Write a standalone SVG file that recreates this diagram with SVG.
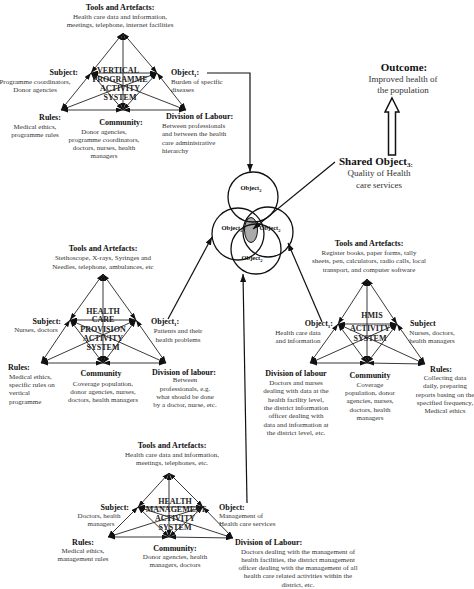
<svg xmlns="http://www.w3.org/2000/svg" width="474" height="589" viewBox="0 0 474 589">
<defs>
<marker id="ah" markerUnits="userSpaceOnUse" markerWidth="7" markerHeight="5" refX="7" refY="2.5" orient="auto-start-reverse"><path d="M0,0 L7,2.5 L0,5 z" fill="#111"/></marker>
<marker id="ahb" markerUnits="userSpaceOnUse" markerWidth="8" markerHeight="6" refX="8" refY="3" orient="auto"><path d="M0,0 L8,3 L0,6 z" fill="#111"/></marker>
<style>
text{font-family:"Liberation Serif","Times New Roman",serif;}
.t{font-size:7px;fill:#333;}
.h{font-size:8px;font-weight:bold;fill:#111;}
.c{text-anchor:middle;}
.e{text-anchor:end;}
.sys{font-size:8px;font-weight:bold;fill:#222;text-anchor:middle;}
.tri line{stroke:#222;stroke-width:0.9;marker-start:url(#ah);marker-end:url(#ah);}
.con{stroke:#111;stroke-width:1.2;fill:none;marker-end:url(#ahb);}
.circ{stroke:#111;stroke-width:1.3;fill:none;}
.ol{font-size:6.5px;font-weight:bold;fill:#111;text-anchor:middle;}
</style>
</defs>
<rect width="474" height="589" fill="#fff"/>

<g id="vertical-programme">
<g class="tri">
<line x1="123" y1="33" x2="91" y2="73"/><line x1="91" y1="73" x2="61" y2="110"/>
<line x1="123" y1="33" x2="157" y2="73"/><line x1="157" y1="73" x2="186" y2="110"/>
<line x1="61" y1="110" x2="123" y2="110"/><line x1="123" y1="110" x2="186" y2="110"/>
<line x1="123" y1="33" x2="123" y2="110"/><line x1="91" y1="73" x2="157" y2="73"/>
<line x1="91" y1="73" x2="123" y2="110"/><line x1="157" y1="73" x2="123" y2="110"/>
<line x1="91" y1="73" x2="186" y2="110"/><line x1="157" y1="73" x2="61" y2="110"/>
</g>
<text class="h c" x="120" y="10">Tools and Artefacts:</text>
<text class="t c" x="120" y="18.5">Health care data and information,</text>
<text class="t c" x="120" y="26.5">meetings, telephone, internet facilities</text>
<text class="h e" x="78" y="75">Subject:</text>
<text class="t c" x="35" y="84">Programme coordinators,</text>
<text class="t c" x="35" y="92">Donor agencies</text>
<text class="h" x="171" y="75">Object<tspan font-size="5" dy="1.5">1</tspan><tspan dy="-1.5">:</tspan></text>
<text class="t" x="171" y="84">Burden of specific</text>
<text class="t" x="171" y="92">diseases</text>
<text class="h c" x="50" y="120">Rules:</text>
<text class="t c" x="35" y="128.5">Medical ethics,</text>
<text class="t c" x="35" y="136.5">programme rules</text>
<text class="h c" x="121" y="125">Community:</text>
<text class="t c" x="104" y="133.5">Donor agencies,</text>
<text class="t c" x="104" y="141.5">programme coordinators,</text>
<text class="t c" x="104" y="149.5">doctors, nurses, health</text>
<text class="t c" x="104" y="158">managers</text>
<text class="h" x="166" y="119">Division of Labour:</text>
<text class="t" x="162" y="128">Between professionals</text>
<text class="t" x="162" y="136">and between the health</text>
<text class="t" x="162" y="144.5">care administrative</text>
<text class="t" x="162" y="152.5">hierarchy</text>
<text class="sys" x="118" y="73">VERTICAL</text>
<text class="sys" x="120" y="82">PROGRAMME</text>
<text class="sys" x="120" y="91">ACTIVITY</text>
<text class="sys" x="120" y="100">SYSTEM</text>
</g>

<g id="health-care-provision">
<g class="tri">
<line x1="103" y1="274" x2="70" y2="320"/><line x1="70" y1="320" x2="41" y2="363"/>
<line x1="103" y1="274" x2="136" y2="320"/><line x1="136" y1="320" x2="166" y2="363"/>
<line x1="41" y1="363" x2="103" y2="363"/><line x1="103" y1="363" x2="166" y2="363"/>
<line x1="103" y1="274" x2="103" y2="363"/><line x1="70" y1="320" x2="136" y2="320"/>
<line x1="70" y1="320" x2="103" y2="363"/><line x1="136" y1="320" x2="103" y2="363"/>
<line x1="70" y1="320" x2="166" y2="363"/><line x1="136" y1="320" x2="41" y2="363"/>
</g>
<text class="h c" x="103" y="251">Tools and Artefacts:</text>
<text class="t c" x="103" y="259.5">Stethoscope, X-rays, Syringes and</text>
<text class="t c" x="103" y="268.5">Needles, telephone, ambulances, etc</text>
<text class="h e" x="61" y="324">Subject:</text>
<text class="t c" x="36" y="332">Nurses, doctors</text>
<text class="h" x="151" y="324">Object<tspan font-size="5" dy="1.5">1</tspan><tspan dy="-1.5">:</tspan></text>
<text class="t c" x="178" y="332.5">Patients and their</text>
<text class="t c" x="178" y="341.5">health problems</text>
<text class="h" x="8" y="370">Rules:</text>
<text class="t" x="9" y="378.5">Medical ethics,</text>
<text class="t" x="9" y="387">specific rules on</text>
<text class="t" x="9" y="395">vertical</text>
<text class="t" x="9" y="403.5">programme</text>
<text class="h c" x="101" y="376">Community</text>
<text class="t c" x="103" y="385.5">Coverage population,</text>
<text class="t c" x="103" y="393.5">donor agencies, nurses,</text>
<text class="t c" x="103" y="402">doctors, health managers</text>
<text class="h c" x="184" y="374.5">Division of labour:</text>
<text class="t c" x="185" y="382">Between</text>
<text class="t c" x="185" y="390.5">professionals, e.g.</text>
<text class="t c" x="185" y="399">what should be done</text>
<text class="t c" x="185" y="407">by a doctor, nurse, etc.</text>
<text class="sys" x="103" y="313.5">HEALTH</text>
<text class="sys" x="103" y="322">CARE</text>
<text class="sys" x="103" y="332">PROVISION</text>
<text class="sys" x="103" y="341">ACTIVITY</text>
<text class="sys" x="103" y="350">SYSTEM</text>
</g>

<g id="hmis">
<g class="tri">
<line x1="367" y1="279" x2="338" y2="324"/><line x1="338" y1="324" x2="310" y2="363"/>
<line x1="367" y1="279" x2="397" y2="324"/><line x1="397" y1="324" x2="425" y2="364"/>
<line x1="310" y1="363" x2="367" y2="363"/><line x1="367" y1="363" x2="425" y2="364"/>
<line x1="367" y1="279" x2="367" y2="363"/><line x1="338" y1="324" x2="397" y2="324"/>
<line x1="338" y1="324" x2="367" y2="363"/><line x1="397" y1="324" x2="367" y2="363"/>
<line x1="338" y1="324" x2="425" y2="364"/><line x1="397" y1="324" x2="310" y2="363"/>
</g>
<text class="h c" x="369" y="246">Tools and Artefacts:</text>
<text class="t c" x="369" y="254.5">Register books, paper forms, tally</text>
<text class="t c" x="369" y="263">sheets, pen, calculators, radio calls, local</text>
<text class="t c" x="369" y="271.5">transport, and computer software</text>
<text class="h e" x="333" y="326">Object<tspan font-size="5" dy="1.5">1</tspan><tspan dy="-1.5">:</tspan></text>
<text class="t c" x="298" y="334.5">Health care data</text>
<text class="t c" x="298" y="342.5">and information</text>
<text class="h" x="410" y="326">Subject</text>
<text class="t c" x="432" y="334.5">Nurses, doctors,</text>
<text class="t c" x="432" y="342.5">health managers</text>
<text class="h c" x="296" y="376">Division of labour</text>
<text class="t c" x="296" y="384.5">Doctors and nurses</text>
<text class="t c" x="296" y="393">dealing with data at the</text>
<text class="t c" x="296" y="401.5">health facility level,</text>
<text class="t c" x="296" y="409.5">the district information</text>
<text class="t c" x="296" y="418">officer dealing with</text>
<text class="t c" x="296" y="426.5">data and information at</text>
<text class="t c" x="296" y="434.5">the district level, etc.</text>
<text class="h c" x="370" y="378">Community</text>
<text class="t c" x="370" y="386.5">Coverage</text>
<text class="t c" x="370" y="394.5">population, donor</text>
<text class="t c" x="370" y="403">agencies, nurses,</text>
<text class="t c" x="370" y="411.5">doctors, health</text>
<text class="t c" x="370" y="420">managers</text>
<text class="h c" x="441" y="372">Rules:</text>
<text class="t c" x="445" y="379.5">Collecting data</text>
<text class="t c" x="445" y="388">daily, preparing</text>
<text class="t c" x="445" y="396.5">reports basing on the</text>
<text class="t c" x="445" y="404.5">specified frequency,</text>
<text class="t c" x="445" y="412.5">Medical ethics</text>
<text class="sys" x="372" y="318">HMIS</text>
<text class="sys" x="370" y="331">ACTIVITY</text>
<text class="sys" x="370" y="341">SYSTEM</text>
</g>

<g id="health-management">
<g class="tri">
<line x1="169" y1="473" x2="138" y2="507"/><line x1="138" y1="507" x2="108" y2="537"/>
<line x1="169" y1="473" x2="203" y2="507"/><line x1="203" y1="507" x2="233" y2="538"/>
<line x1="108" y1="537" x2="169" y2="537"/><line x1="169" y1="537" x2="233" y2="538"/>
<line x1="169" y1="473" x2="169" y2="537"/><line x1="138" y1="507" x2="203" y2="507"/>
<line x1="138" y1="507" x2="169" y2="537"/><line x1="203" y1="507" x2="169" y2="537"/>
<line x1="138" y1="507" x2="233" y2="538"/><line x1="203" y1="507" x2="108" y2="537"/>
</g>
<text class="h c" x="172" y="448">Tools and Artefacts:</text>
<text class="t c" x="172" y="456.5">Health care data and information,</text>
<text class="t c" x="172" y="464.5">meetings, telephones, etc.</text>
<text class="h e" x="129" y="510">Subject:</text>
<text class="t c" x="99" y="518">Doctors, health</text>
<text class="t c" x="101" y="526">managers</text>
<text class="h" x="219" y="510">Object:</text>
<text class="t" x="219" y="518">Management of</text>
<text class="t" x="219" y="526">Health care services</text>
<text class="h c" x="83" y="545">Rules:</text>
<text class="t c" x="83" y="553">Medical ethics,</text>
<text class="t c" x="83" y="561">management rules</text>
<text class="h c" x="175" y="550.5">Community:</text>
<text class="t c" x="175" y="559">Donor agencies, health</text>
<text class="t c" x="175" y="567">managers, doctors</text>
<text class="h" x="235" y="545">Division of Labour:</text>
<text class="t c" x="298" y="553.5">Doctors dealing with the management of</text>
<text class="t c" x="298" y="561.5">health facilities, the district management</text>
<text class="t c" x="298" y="570">officer dealing with the management of all</text>
<text class="t c" x="298" y="578">health care related activities within the</text>
<text class="t c" x="298" y="586.5">district, etc.</text>
<text class="sys" x="175" y="504">HEALTH</text>
<text class="sys" x="176" y="512" font-size="6.5">MANAGEMENT</text>
<text class="sys" x="175" y="521">ACTIVITY</text>
<text class="sys" x="175" y="530">SYSTEM</text>
</g>

<g id="shared-objects">
<ellipse cx="251" cy="230" rx="6.5" ry="12.5" fill="#aaa" stroke="#111" stroke-width="1"/>
<circle class="circ" cx="253" cy="197" r="25"/>
<circle class="circ" cx="238" cy="234" r="26"/>
<circle class="circ" cx="268" cy="232" r="25"/>
<circle class="circ" cx="256" cy="249" r="25"/>
<text class="ol" x="251" y="190">Object<tspan font-size="4.5" dy="1.5">2</tspan></text>
<text class="ol" x="232" y="230">Object<tspan font-size="4.5" dy="1.5">2</tspan></text>
<text class="ol" x="270" y="230">Object<tspan font-size="4.5" dy="1.5">2</tspan></text>
<text class="ol" x="252" y="260">Object<tspan font-size="4.5" dy="1.5">2</tspan></text>
</g>

<g id="shared-object-3">
<text x="339" y="165" font-size="11" font-weight="bold" fill="#111">Shared Object<tspan font-size="7" dy="2">3</tspan><tspan font-size="7">:</tspan></text>
<text x="379" y="176" font-size="9" fill="#333" text-anchor="middle">Quality of Health</text>
<text x="379" y="188" font-size="9" fill="#333" text-anchor="middle">care services</text>
</g>

<g id="outcome">
<text x="404" y="71" font-size="11" font-weight="bold" fill="#111" text-anchor="middle">Outcome:</text>
<text x="403" y="82" font-size="9" fill="#333" text-anchor="middle">Improved health of</text>
<text x="403" y="93" font-size="9" fill="#333" text-anchor="middle">the population</text>
<polygon points="392,98 399,112 395.5,112 395.5,155 388.5,155 388.5,112 385,112" fill="#fff" stroke="#111" stroke-width="1.5" stroke-linejoin="miter"/>
</g>

<g id="connectors">
<polyline class="con" points="207,73 250,73 250,172"/>
<line class="con" x1="168" y1="319" x2="212" y2="237"/>
<line class="con" x1="322" y1="322" x2="288" y2="243"/>
<line class="con" x1="247" y1="503" x2="243" y2="274"/>
<line class="con" x1="335" y1="162" x2="253" y2="229"/>
</g>
</svg>
